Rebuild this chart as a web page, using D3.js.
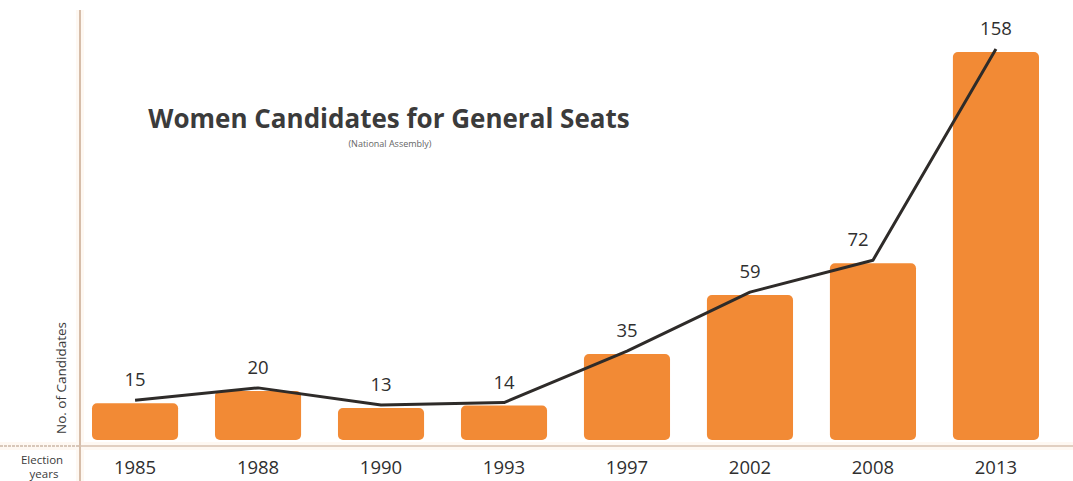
<!DOCTYPE html>
<html>
<head>
<meta charset="utf-8">
<script src="https://cdn.jsdelivr.net/npm/d3@7"></script>
<style>
  body { margin: 0; background: #fff; }
  svg { display: block; font-family: "Open Sans", "Noto Sans", sans-serif; }
</style>
</head>
<body>
<div id="container"></div>
<script>
/* DATA */
const years = ["1985", "1988", "1990", "1993", "1997", "2002", "2008", "2013"];
const candidates = [15, 20, 13, 14, 35, 59, 72, 158];

/* CONSTANTS */
const width = 1073;
const height = 481;
const axisX = 80;
const baseY = 440;

const data = years.map((y, i) => ({ year: y, count: candidates[i] }));

/* SCALES */
const xScale = d3.scaleBand()
  .domain(years)
  .range([axisX, 1051])
  .paddingInner(0.3)
  .paddingOuter(0.0976);

const yScale = d3.scaleLinear()
  .domain([0, 158])
  .range([baseY, 52]);

/* SVG */
const svg = d3.select("#container")
  .append("svg")
  .attr("width", width)
  .attr("height", height);

// soft glow behind the axes
svg.append("rect")
  .attr("x", axisX - 4).attr("y", 10)
  .attr("width", 8).attr("height", height - 10)
  .attr("fill", "#fef8f2");
svg.append("rect")
  .attr("x", 0).attr("y", 442)
  .attr("width", width).attr("height", 8)
  .attr("fill", "#fef8f2");

// bars
svg.selectAll("rect.bar")
  .data(data)
  .join("rect")
  .attr("class", "bar")
  .attr("x", d => xScale(d.year))
  .attr("y", d => yScale(d.count))
  .attr("width", xScale.bandwidth())
  .attr("height", d => baseY - yScale(d.count))
  .attr("rx", 5)
  .attr("fill", "#f28a35");

// axes lines
svg.append("line")
  .attr("x1", axisX).attr("x2", axisX)
  .attr("y1", 10).attr("y2", height)
  .attr("stroke", "#c9aa90")
  .attr("stroke-width", 1.5);
svg.append("line")
  .attr("x1", 0).attr("x2", axisX)
  .attr("y1", 446).attr("y2", 446)
  .attr("stroke", "#cbb7a6")
  .attr("stroke-width", 1.5)
  .attr("stroke-dasharray", "3,1");
svg.append("line")
  .attr("x1", axisX).attr("x2", width)
  .attr("y1", 446).attr("y2", 446)
  .attr("stroke", "#d7c2b0")
  .attr("stroke-width", 1.5);

// trend line
const line = d3.line()
  .x(d => xScale(d.year) + xScale.bandwidth() / 2)
  .y(d => yScale(d.count) - 3);

svg.append("path")
  .datum(data)
  .attr("d", line)
  .attr("fill", "none")
  .attr("stroke", "#2e2b29")
  .attr("stroke-width", 3)
  .attr("stroke-linejoin", "round");

// value labels
svg.selectAll("text.val")
  .data(data)
  .join("text")
  .attr("class", "val")
  .attr("x", d => xScale(d.year) + xScale.bandwidth() / 2 + (d.year === "2008" ? -15 : 0))
  .attr("y", d => yScale(d.count) - 17)
  .attr("text-anchor", "middle")
  .attr("font-size", 18.5)
  .attr("fill", "#2f2f2f")
  .text(d => d.count);

// x tick labels
svg.selectAll("text.tick")
  .data(years)
  .join("text")
  .attr("class", "tick")
  .attr("x", d => xScale(d) + xScale.bandwidth() / 2)
  .attr("y", 474)
  .attr("text-anchor", "middle")
  .attr("font-size", 18.5)
  .attr("fill", "#2f2f2f")
  .text(d => d);

// axis titles
svg.append("text")
  .attr("transform", "translate(66,378) rotate(-90)")
  .attr("text-anchor", "middle")
  .attr("font-size", 13.5)
  .attr("fill", "#3a3a3a")
  .text("No. of Candidates");

svg.append("text")
  .attr("x", 42).attr("y", 464)
  .attr("text-anchor", "middle")
  .attr("font-size", 11.5)
  .attr("fill", "#3a3a3a")
  .text("Election");
svg.append("text")
  .attr("x", 44).attr("y", 478)
  .attr("text-anchor", "middle")
  .attr("font-size", 11.5)
  .attr("fill", "#3a3a3a")
  .text("years");

// title
svg.append("text")
  .attr("x", 389).attr("y", 128)
  .attr("text-anchor", "middle")
  .attr("font-size", 26)
  .attr("font-weight", "bold")
  .attr("fill", "#3b3b3b")
  .text("Women Candidates for General Seats");
svg.append("text")
  .attr("x", 390).attr("y", 147)
  .attr("text-anchor", "middle")
  .attr("font-size", 9)
  .attr("fill", "#666")
  .text("(National Assembly)");
</script>
</body>
</html>
